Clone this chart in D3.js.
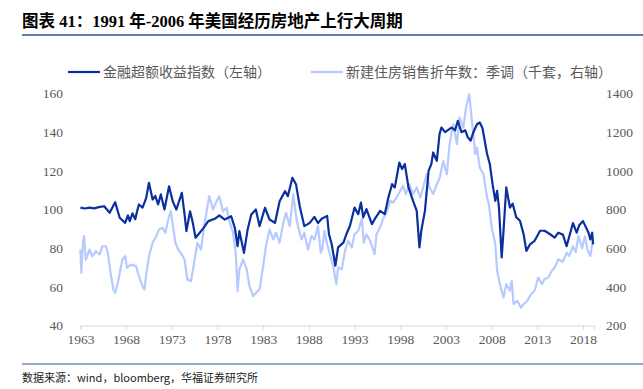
<!DOCTYPE html>
<html>
<head>
<meta charset="utf-8">
<script src="https://cdn.jsdelivr.net/npm/d3@7"></script>
<style>
  body { margin: 0; background: #fff; }
  svg { display: block; }
  .tick text { font-family: "Liberation Serif", "Times New Roman", serif; font-size: 13.5px; fill: #595959; }
</style>
</head>
<body>
<svg id="chart" width="643" height="389"></svg>
<script>
// 金融超额收益指数（左轴）[year, value]
const finIndex = [
  [1963.0,101],[1963.5,100.5],[1964.0,101],[1964.5,100.6],[1965.0,101.2],[1965.6,101.7],
  [1966.2,98.3],[1966.8,103.8],[1967.3,95.7],[1967.9,93.1],[1968.2,97],[1968.4,94],
  [1968.7,98],[1969.0,95],[1969.2,99],[1969.4,102.6],[1969.8,101],[1970.2,106],
  [1970.5,113.8],[1970.9,105.2],[1971.2,107],[1971.5,102.6],[1971.8,107.8],[1972.2,100],
  [1972.7,112],[1973.1,104.3],[1973.5,100],[1974.1,108.6],[1974.4,97.4],[1974.6,88.8],
  [1975.0,99.1],[1975.3,93.1],[1975.6,85.4],[1975.9,87.1],[1976.4,90],[1977.0,94],
  [1977.7,95.2],[1978.2,96.9],[1978.8,94.8],[1979.5,96.5],[1979.9,90.5],[1980.2,81],
  [1980.4,88.8],[1980.9,77.6],[1981.3,89.7],[1981.7,97.4],[1982.2,100],[1982.6,91.4],
  [1983.2,100.9],[1983.7,94.8],[1984.3,93.1],[1984.8,104.3],[1985.4,109.5],[1985.7,106.9],
  [1986.2,116.4],[1986.6,112.9],[1987.0,101.7],[1987.5,91.4],[1988.1,93.1],[1988.6,96.2],
  [1989.0,93],[1989.4,95.2],[1990.0,96.7],[1990.2,87.2],[1990.5,82],[1990.9,70.9],
  [1991.2,80.4],[1991.8,83],[1992.1,87.2],[1992.5,91.6],[1993.0,101],[1993.4,97.6],
  [1993.7,103.6],[1993.95,95.9],[1994.3,100.2],[1994.9,92.4],[1995.2,95],[1995.8,99.3],
  [1996.3,97.6],[1996.7,106.2],[1997.1,113.1],[1997.4,111.4],[1997.9,124.3],[1998.2,120.9],
  [1998.5,123.5],[1998.9,111.4],[1999.4,104.5],[1999.8,99.3],[2000.1,80.4],[2000.3,89],
  [2000.7,99.3],[2001.1,120],[2001.4,123.5],[2001.6,129.5],[2002.0,125.2],[2002.3,139],
  [2002.5,142.4],[2002.9,140],[2003.1,140.7],[2003.6,142.4],[2004.0,141],[2004.3,145.9],
  [2004.7,140],[2005.1,141],[2005.4,137.3],[2005.7,135.6],[2006.0,140],[2006.4,144.1],
  [2006.7,145],[2007.0,142],[2007.5,128.7],[2007.8,123.5],[2008.1,113.1],[2008.4,104.5],
  [2008.6,109.7],[2008.8,101],[2009.1,75.2],[2009.3,89],[2009.6,111.4],[2010.0,101],
  [2010.3,103],[2010.7,95.9],[2011.1,94.2],[2011.5,87.2],[2011.8,78.6],[2012.2,82],
  [2012.7,83.8],[2013.3,89],[2013.8,89],[2014.4,87.2],[2014.9,85.5],[2015.3,88],
  [2015.8,87],[2016.2,81],[2016.9,93],[2017.3,88],[2017.6,92],[2018.0,94],
  [2018.6,88],[2018.8,84.5],[2019.0,88],[2019.1,82]
];

// 新建住房销售折年数：季调（千套，右轴）[year, value]
const homeSales = [
  [1963.0,593],[1963.1,473],[1963.3,640],[1963.4,662],[1963.6,541],[1964.0,593],
  [1964.3,558],[1964.7,584],[1965.1,567],[1965.4,610],[1965.8,610],[1966.0,575],
  [1966.3,473],[1966.6,386],[1966.8,369],[1967.1,421],[1967.6,541],[1967.9,558],
  [1968.1,498],[1968.5,515],[1969.1,507],[1969.4,455],[1969.8,403],[1970.0,386],
  [1970.2,464],[1970.5,558],[1970.9,628],[1971.3,662],[1971.6,697],[1972.0,705],
  [1972.3,680],[1972.7,765],[1972.9,791],[1973.1,722],[1973.4,628],[1973.7,593],
  [1974.0,575],[1974.4,541],[1974.7,438],[1975.1,429],[1975.5,541],[1975.8,628],
  [1976.2,593],[1976.6,731],[1977.1,869],[1977.5,800],[1977.9,843],[1978.2,869],
  [1978.6,791],[1979.0,809],[1979.3,740],[1979.7,680],[1980.0,576],[1980.2,377],
  [1980.4,490],[1980.8,541],[1981.2,490],[1981.5,403],[1981.9,352],[1982.2,369],
  [1982.6,386],[1983.0,507],[1983.3,610],[1983.7,697],[1984.1,645],[1984.4,680],
  [1984.8,628],[1985.2,731],[1985.5,783],[1985.9,714],[1986.3,878],[1986.6,765],
  [1986.8,714],[1987.2,645],[1987.5,680],[1987.9,593],[1988.3,662],[1988.6,645],
  [1989.0,714],[1989.3,576],[1989.5,603],[1989.7,690],[1990.0,620],[1990.3,569],
  [1990.7,500],[1991.0,414],[1991.2,500],[1991.6,491],[1991.95,586],[1992.3,638],
  [1992.7,603],[1993.0,672],[1993.4,690],[1993.8,750],[1994.0,629],[1994.3,672],
  [1994.7,638],[1995.2,569],[1995.4,672],[1995.8,707],[1996.1,750],[1996.5,785],
  [1996.9,845],[1997.2,836],[1997.6,862],[1998.0,897],[1998.3,923],[1998.6,880],
  [1999.0,931],[1999.4,880],[1999.8,914],[2000.2,862],[2000.5,914],[2000.9,983],
  [2001.2,914],[2001.6,880],[2002.0,931],[2002.3,960],[2002.7,1050],[2003.1,983],
  [2003.4,1138],[2003.8,1241],[2004.2,1138],[2004.5,1276],[2004.9,1224],[2005.2,1328],
  [2005.55,1397],[2005.8,1276],[2006.0,1190],[2006.2,1086],[2006.4,1120],[2006.7,1017],
  [2007.1,983],[2007.5,862],[2007.7,828],[2008.0,707],[2008.4,621],[2008.6,483],
  [2008.9,414],[2009.3,345],[2009.6,414],[2010.0,380],[2010.2,431],[2010.4,310],
  [2010.8,328],[2011.2,293],[2011.5,310],[2011.9,328],[2012.3,362],[2012.7,380],
  [2013.1,448],[2013.5,414],[2013.8,440],[2014.2,448],[2014.6,483],[2014.9,500],
  [2015.3,543],[2015.8,530],[2016.2,576],[2016.5,560],[2016.9,610],[2017.2,580],
  [2017.5,662],[2017.9,600],[2018.2,660],[2018.5,590],[2018.8,559],[2019.1,650]
];

const yearTicks = [1963, 1968, 1973, 1978, 1983, 1988, 1993, 1998, 2003, 2008, 2013, 2018];
const leftTicks = [40, 60, 80, 100, 120, 140, 160];
const rightTicks = [200, 400, 600, 800, 1000, 1200, 1400];

const titleText = "图表 41：1991 年-2006 年美国经历房地产上行大周期";
const legendNames = ["金融超额收益指数（左轴）", "新建住房销售折年数：季调（千套，右轴）"];
const sourceText = "数据来源：wind，bloomberg，华福证券研究所";

const DARK = "#0a2f9e";
const LIGHT = "#b7caff";

const svg = d3.select("#chart");

// 标题与分隔线
svg.append("text")
  .attr("x", 22).attr("y", 27)
  .attr("font-family", "'Liberation Serif', 'Noto Sans CJK SC', serif")
  .attr("font-weight", "bold")
  .attr("font-size", 16.5)
  .attr("fill", "#000")
  .text(titleText);

svg.append("line")
  .attr("x1", 22).attr("x2", 643).attr("y1", 35).attr("y2", 35)
  .attr("stroke", "#2f5597").attr("stroke-width", 1.5);

svg.append("line")
  .attr("x1", 22).attr("x2", 643).attr("y1", 364).attr("y2", 364)
  .attr("stroke", "#2f5597").attr("stroke-width", 1.2);

svg.append("text")
  .attr("x", 22).attr("y", 382)
  .attr("font-family", "'Noto Sans CJK SC', sans-serif")
  .attr("font-size", 11)
  .attr("fill", "#222")
  .text(sourceText);

// 比例尺
const x = d3.scaleLinear().domain([1963, 2019.2]).range([80.4, 594]);
const yL = d3.scaleLinear().domain([40, 160]).range([325.5, 93.5]);
const yR = d3.scaleLinear().domain([200, 1400]).range([325.5, 93.5]);

// 坐标轴
const xAxis = svg.append("g")
  .attr("transform", "translate(0,325.5)")
  .call(d3.axisBottom(x).tickValues(yearTicks).tickFormat(d3.format("d")).tickSize(4).tickPadding(5));
xAxis.select(".domain").attr("stroke", "#d9d9d9");
xAxis.selectAll(".tick line").attr("stroke", "#d9d9d9");

const leftAxis = svg.append("g")
  .attr("transform", "translate(66,0)")
  .call(d3.axisLeft(yL).tickValues(leftTicks).tickFormat(d3.format("d")).tickSize(0).tickPadding(3));
leftAxis.select(".domain").remove();

const rightAxis = svg.append("g")
  .attr("transform", "translate(603,0)")
  .call(d3.axisRight(yR).tickValues(rightTicks).tickFormat(d3.format("d")).tickSize(0).tickPadding(3));
rightAxis.select(".domain").remove();

// 折线
const lineR = d3.line().x(d => x(d[0])).y(d => yR(d[1]));
const lineL = d3.line().x(d => x(d[0])).y(d => yL(d[1]));

svg.append("path")
  .datum(homeSales)
  .attr("d", lineR)
  .attr("fill", "none")
  .attr("stroke", LIGHT)
  .attr("stroke-width", 2.2)
  .attr("stroke-linejoin", "round");

svg.append("path")
  .datum(finIndex)
  .attr("d", lineL)
  .attr("fill", "none")
  .attr("stroke", DARK)
  .attr("stroke-width", 2.2)
  .attr("stroke-linejoin", "round");

// 图例
const legendItems = [
  { name: legendNames[0], color: DARK, x: 68 },
  { name: legendNames[1], color: LIGHT, x: 311 }
];
const lg = svg.append("g").selectAll("g").data(legendItems).join("g")
  .attr("transform", d => `translate(${d.x},72)`);
lg.append("line")
  .attr("x1", 0).attr("x2", 32).attr("y1", 0).attr("y2", 0)
  .attr("stroke", d => d.color).attr("stroke-width", 2.2);
lg.append("text")
  .attr("x", 35).attr("y", 5)
  .attr("font-family", "'Noto Sans CJK SC', sans-serif")
  .attr("font-size", 14)
  .attr("fill", "#595959")
  .text(d => d.name);
</script>
</body>
</html>
